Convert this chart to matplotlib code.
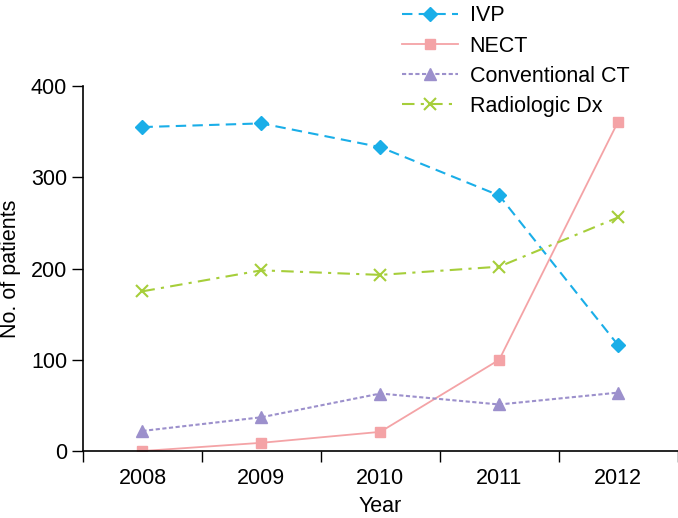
import numpy as np
import matplotlib.pyplot as plt

plt.rcParams['font.family'] = ['Liberation Sans', 'DejaVu Sans']

# data
years = ['2008', '2009', '2010', '2011', '2012']
ivp = [355, 359, 333, 280, 116]
nect = [0, 9, 21, 100, 361]
conv_ct = [22, 37, 63, 51, 64]
radio_dx = [175, 198, 193, 202, 256]

x = np.arange(len(years))
fs = 15.5

fig = plt.figure(figsize=(6.78, 5.18), dpi=100)
ax = fig.add_axes([0.1224, 0.1293, 0.877, 0.7047])

ax.plot(x, ivp, color='#1AAEE8', ls=(0, (5, 3)), lw=1.5, marker='D', ms=7.5, label='IVP')
ax.plot(x, nect, color='#F4A3A6', ls='-', lw=1.3, marker='s', ms=7.5, label='NECT')
ax.plot(x, conv_ct, color='#9C90CC', ls=(0, (2, 1.2)), lw=1.5, marker='^', ms=8.5, label='Conventional CT')
ax.plot(x, radio_dx, color='#A6CE3A', ls=(0, (6, 3, 1.5, 3)), lw=1.5, marker='x', ms=8.5, mew=1.5, label='Radiologic Dx')

ax.set_xlim(-0.5, 4.5)
ax.set_ylim(0, 400)
ax.set_yticks([0, 100, 200, 300, 400])
ax.set_xticks(x)
ax.set_xticklabels(years)
ax.set_xticks(np.arange(-0.5, 5, 1), minor=True)
ax.tick_params(axis='x', which='major', length=0, labelsize=fs, pad=12)
ax.tick_params(axis='x', which='minor', length=8, direction='out', width=1)
ax.tick_params(axis='y', length=8, direction='out', width=1, labelsize=fs)

for s in ['top', 'right']:
    ax.spines[s].set_visible(False)
for s in ['left', 'bottom']:
    ax.spines[s].set_linewidth(1.2)

ax.set_xlabel('Year', fontsize=fs, labelpad=5)
ax.set_ylabel('No. of patients', fontsize=fs, labelpad=7)

ax.legend(loc='upper left', bbox_to_anchor=(0.518, 1.25), frameon=False, fontsize=fs,
          handlelength=2.6, labelspacing=0.42, handletextpad=0.55, borderpad=0)

fig.savefig('out.png', dpi=100)
